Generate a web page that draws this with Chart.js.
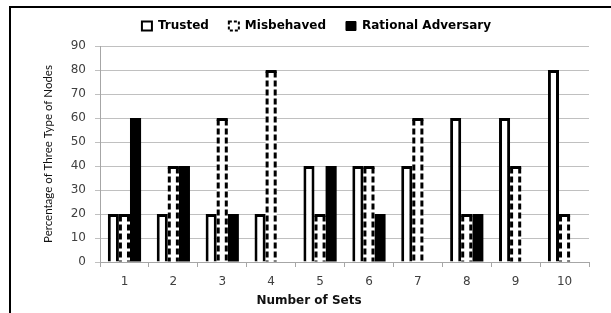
<!DOCTYPE html>
<html>
<head>
<meta charset="utf-8">
<script src="https://cdn.jsdelivr.net/npm/chart.js@4/dist/chart.umd.min.js"></script>
<style>
  html, body { margin: 0; padding: 0; background: #fff; }
  #wrap { position: relative; width: 611px; height: 313px; overflow: hidden; }
  #frame { position: absolute; left: 9px; top: 6px; width: 700px; height: 400px;
           border-left: 2px solid #000; border-top: 2px solid #000; }
  #chart { position: absolute; left: 0; top: 0; }
</style>
</head>
<body>
<div id="wrap">
  <div id="frame"></div>
  <canvas id="chart" width="611" height="313"></canvas>
</div>
<script>
//--------------------Data-------------------
const setLabels = ["1", "2", "3", "4", "5", "6", "7", "8", "9", "10"];
const trustedValues = [20, 20, 20, 20, 40, 40, 40, 60, 60, 80];
const misbehavedValues = [20, 40, 60, 80, 20, 40, 60, 20, 40, 20];
const rationalValues = [60, 40, 20, 0, 40, 20, 0, 20, 0, 0];
const seriesNames = ["Trusted", "Misbehaved", "Rational Adversary"];

const WIDE = "'DejaVu Sans', sans-serif";
const NARROW = "Lato, 'Open Sans', sans-serif";
const gridGray = "#c0c0c0";
const axisGray = "#a6a6a6";

// Misbehaved bars have a dashed outline, Chart.js bars can't dash their border
const dashedBorders = {
  id: "dashedBorders",
  afterDatasetsDraw(chart) {
    const meta = chart.getDatasetMeta(1);
    const ctx = chart.ctx;
    ctx.save();
    ctx.strokeStyle = "#000";
    ctx.lineWidth = 3;
    meta.data.forEach((bar) => {
      const { x, y, base, width } = bar.getProps(["x", "y", "base", "width"], true);
      const left = x - width / 2 + 1.5;
      const right = x + width / 2 - 1.5;
      const top = y + 1.5;
      ctx.setLineDash([]);
      ctx.beginPath();
      ctx.moveTo(left - 1.5, top);
      ctx.lineTo(right + 1.5, top);
      ctx.stroke();
      ctx.setLineDash([6, 3]);
      ctx.beginPath();
      ctx.moveTo(left, top);
      ctx.lineTo(left, base);
      ctx.moveTo(right, top);
      ctx.lineTo(right, base);
      ctx.stroke();
    });
    ctx.restore();
  },
};

// legend and x title are centred on the whole chart in the original, not the plot
const layoutTweaks = {
  id: "layoutTweaks",
  afterLayout(chart) {
    const lg = chart.legend;
    lg.left += 22;
    lg.right += 22;
    lg.top -= 4;
    lg.bottom -= 4;

    const xs = chart.scales.x;
    if (!xs._shiftedTitle) {
      const orig = xs.drawTitle;
      xs.drawTitle = function () {
        const l = this.left;
        this.left = 29;
        orig.call(this);
        this.left = l;
      };
      xs._shiftedTitle = true;
    }
  },
};

const ctx = document.getElementById("chart").getContext("2d");

new Chart(ctx, {
  type: "bar",
  data: {
    labels: setLabels,
    datasets: [
      {
        label: seriesNames[0],
        data: trustedValues,
        backgroundColor: "#fff",
        borderColor: "#000",
        borderWidth: 3,
      },
      {
        label: seriesNames[1],
        data: misbehavedValues,
        backgroundColor: "#fff",
        borderWidth: 0,
      },
      {
        label: seriesNames[2],
        data: rationalValues,
        backgroundColor: "#000",
        borderWidth: 0,
      },
    ],
  },
  options: {
    responsive: false,
    animation: false,
    categoryPercentage: 0.68,
    barPercentage: 1,
    layout: { padding: { left: 0, right: 22, top: 4, bottom: 0 } },
    plugins: {
      tooltip: { enabled: false },
      legend: {
        position: "top",
        labels: {
          boxWidth: 10,
          boxHeight: 9,
          padding: 20,
          color: "#111",
          font: { family: WIDE, size: 12, weight: "bold" },
          generateLabels() {
            return [
              { text: seriesNames[0], fillStyle: "#fff", strokeStyle: "#000", lineWidth: 2, datasetIndex: 0 },
              { text: seriesNames[1], fillStyle: "#fff", strokeStyle: "#000", lineWidth: 2, lineDash: [3, 2], datasetIndex: 1 },
              { text: seriesNames[2], fillStyle: "#000", strokeStyle: "#000", lineWidth: 1, datasetIndex: 2 },
            ];
          },
        },
      },
    },
    scales: {
      x: {
        afterFit(scale) { scale.height = 51; },
        grid: { drawOnChartArea: false, drawTicks: true, tickLength: 5, offset: true, color: axisGray },
        border: { color: axisGray },
        ticks: { color: "#404040", padding: 8, font: { family: WIDE, size: 12 } },
        title: {
          display: true,
          text: "Number of Sets",
          color: "#111",
          padding: { top: 0, bottom: 5 },
          font: { family: WIDE, size: 12, weight: "bold" },
        },
      },
      y: {
        min: 0,
        max: 90,
        afterFit(scale) { scale.width = 100; },
        grid: { color: gridGray, tickLength: 5 },
        border: { color: axisGray },
        ticks: { stepSize: 10, color: "#404040", padding: 9, font: { family: WIDE, size: 12 } },
        title: {
          display: true,
          text: "Percentage of Three Type of Nodes",
          color: "#111",
          padding: { top: 41, bottom: 0 },
          font: { family: NARROW, size: 11.5 },
        },
      },
    },
  },
  plugins: [dashedBorders, layoutTweaks],
});
</script>
</body>
</html>
